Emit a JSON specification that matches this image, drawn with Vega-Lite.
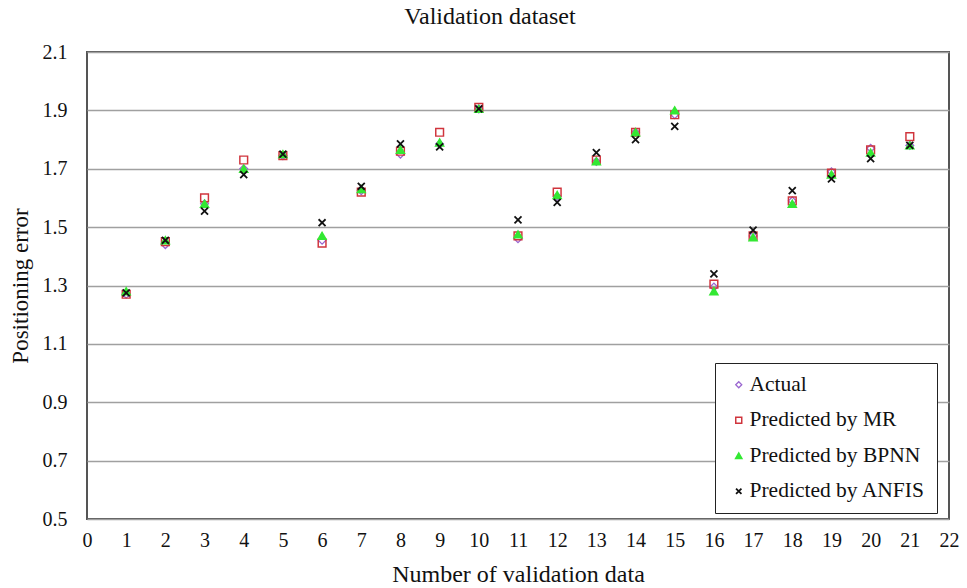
{
  "$schema": "https://vega.github.io/schema/vega-lite/v6.json",
  "width": 862,
  "height": 467,
  "autosize": "none",
  "padding": {"left": 87, "top": 52, "right": 18, "bottom": 69},
  "background": "white",
  "config": {
    "font": "Liberation Serif",
    "view": {"stroke": "#555555", "strokeWidth": 2},
    "axis": {"labelFont": "Liberation Serif", "titleFont": "Liberation Serif", "labelColor": "#111", "titleColor": "#111", "titleFontWeight": "normal"},
    "legend": {"labelFont": "Liberation Serif"},
    "title": {"font": "Liberation Serif"}
  },
  "title": {"text": "Validation dataset", "fontSize": 24, "fontWeight": "normal", "color": "#111", "offset": 13, "dx": -28},
  "data": {"values": [
    {"n":1,"s":"Actual","v":1.27},{"n":2,"s":"Actual","v":1.44},{"n":3,"s":"Actual","v":1.58},{"n":4,"s":"Actual","v":1.70},{"n":5,"s":"Actual","v":1.745},{"n":6,"s":"Actual","v":1.455},{"n":7,"s":"Actual","v":1.625},{"n":8,"s":"Actual","v":1.75},{"n":9,"s":"Actual","v":1.785},{"n":10,"s":"Actual","v":1.905},{"n":11,"s":"Actual","v":1.46},{"n":12,"s":"Actual","v":1.605},{"n":13,"s":"Actual","v":1.725},{"n":14,"s":"Actual","v":1.825},{"n":15,"s":"Actual","v":1.885},{"n":16,"s":"Actual","v":1.295},{"n":17,"s":"Actual","v":1.47},{"n":18,"s":"Actual","v":1.59},{"n":19,"s":"Actual","v":1.69},{"n":20,"s":"Actual","v":1.77},{"n":21,"s":"Actual","v":1.78},
    {"n":1,"s":"Predicted by MR","v":1.27},{"n":2,"s":"Predicted by MR","v":1.45},{"n":3,"s":"Predicted by MR","v":1.60},{"n":4,"s":"Predicted by MR","v":1.73},{"n":5,"s":"Predicted by MR","v":1.745},{"n":6,"s":"Predicted by MR","v":1.445},{"n":7,"s":"Predicted by MR","v":1.62},{"n":8,"s":"Predicted by MR","v":1.76},{"n":9,"s":"Predicted by MR","v":1.825},{"n":10,"s":"Predicted by MR","v":1.91},{"n":11,"s":"Predicted by MR","v":1.47},{"n":12,"s":"Predicted by MR","v":1.62},{"n":13,"s":"Predicted by MR","v":1.73},{"n":14,"s":"Predicted by MR","v":1.825},{"n":15,"s":"Predicted by MR","v":1.885},{"n":16,"s":"Predicted by MR","v":1.305},{"n":17,"s":"Predicted by MR","v":1.47},{"n":18,"s":"Predicted by MR","v":1.59},{"n":19,"s":"Predicted by MR","v":1.685},{"n":20,"s":"Predicted by MR","v":1.765},{"n":21,"s":"Predicted by MR","v":1.81},
    {"n":1,"s":"Predicted by BPNN","v":1.28},{"n":2,"s":"Predicted by BPNN","v":1.455},{"n":3,"s":"Predicted by BPNN","v":1.58},{"n":4,"s":"Predicted by BPNN","v":1.70},{"n":5,"s":"Predicted by BPNN","v":1.75},{"n":6,"s":"Predicted by BPNN","v":1.47},{"n":7,"s":"Predicted by BPNN","v":1.63},{"n":8,"s":"Predicted by BPNN","v":1.765},{"n":9,"s":"Predicted by BPNN","v":1.79},{"n":10,"s":"Predicted by BPNN","v":1.905},{"n":11,"s":"Predicted by BPNN","v":1.475},{"n":12,"s":"Predicted by BPNN","v":1.61},{"n":13,"s":"Predicted by BPNN","v":1.725},{"n":14,"s":"Predicted by BPNN","v":1.825},{"n":15,"s":"Predicted by BPNN","v":1.90},{"n":16,"s":"Predicted by BPNN","v":1.28},{"n":17,"s":"Predicted by BPNN","v":1.465},{"n":18,"s":"Predicted by BPNN","v":1.58},{"n":19,"s":"Predicted by BPNN","v":1.68},{"n":20,"s":"Predicted by BPNN","v":1.755},{"n":21,"s":"Predicted by BPNN","v":1.78},
    {"n":1,"s":"Predicted by ANFIS","v":1.275},{"n":2,"s":"Predicted by ANFIS","v":1.455},{"n":3,"s":"Predicted by ANFIS","v":1.555},{"n":4,"s":"Predicted by ANFIS","v":1.68},{"n":5,"s":"Predicted by ANFIS","v":1.75},{"n":6,"s":"Predicted by ANFIS","v":1.515},{"n":7,"s":"Predicted by ANFIS","v":1.64},{"n":8,"s":"Predicted by ANFIS","v":1.785},{"n":9,"s":"Predicted by ANFIS","v":1.775},{"n":10,"s":"Predicted by ANFIS","v":1.905},{"n":11,"s":"Predicted by ANFIS","v":1.525},{"n":12,"s":"Predicted by ANFIS","v":1.585},{"n":13,"s":"Predicted by ANFIS","v":1.755},{"n":14,"s":"Predicted by ANFIS","v":1.80},{"n":15,"s":"Predicted by ANFIS","v":1.845},{"n":16,"s":"Predicted by ANFIS","v":1.34},{"n":17,"s":"Predicted by ANFIS","v":1.49},{"n":18,"s":"Predicted by ANFIS","v":1.625},{"n":19,"s":"Predicted by ANFIS","v":1.665},{"n":20,"s":"Predicted by ANFIS","v":1.735},{"n":21,"s":"Predicted by ANFIS","v":1.78}
  ]},
  "mark": {"type": "point", "size": 60, "opacity": 1},
  "encoding": {
    "x": {"field": "n", "type": "quantitative",
      "scale": {"domain": [0, 22], "nice": false, "zero": false},
      "axis": {"values": [0,1,2,3,4,5,6,7,8,9,10,11,12,13,14,15,16,17,18,19,20,21,22], "grid": false, "ticks": false, "domain": false, "labelFontSize": 20, "labelPadding": 11, "labelFlush": false, "title": "Number of validation data", "titleFontSize": 24, "titlePadding": 12}},
    "y": {"field": "v", "type": "quantitative",
      "scale": {"domain": [0.5, 2.1], "nice": false, "zero": false},
      "axis": {"values": [0.5,0.7,0.9,1.1,1.3,1.5,1.7,1.9,2.1], "format": ".1f", "grid": true, "gridColor": "#a0a0a0", "gridWidth": 1.5, "ticks": false, "domain": false, "labelFontSize": 20, "labelPadding": 20, "labelFlush": false, "title": "Positioning error", "titleFontSize": 23, "titlePadding": 10}},
    "shape": {"field": "s", "type": "nominal",
      "scale": {"domain": ["Actual","Predicted by MR","Predicted by BPNN","Predicted by ANFIS"], "range": ["diamond","square","triangle-up","M-0.9,-0.9L0.9,0.9M-0.9,0.9L0.9,-0.9"]},
      "legend": {"title": null, "orient": "none", "legendX": 628, "legendY": 311, "strokeColor": "#222", "fillColor": "white", "padding": 11, "rowPadding": 12.5, "labelFontSize": 21.5, "labelLimit": 400, "labelColor": "#111", "symbolSize": 36, "symbolStrokeWidth": 1.2, "labelOffset": 0, "symbolOffset": 2}},
    "stroke": {"field": "s", "type": "nominal",
      "scale": {"domain": ["Actual","Predicted by MR","Predicted by BPNN","Predicted by ANFIS"], "range": ["#9a66d0","#d0343c","#33e833","#111111"]}},
    "fill": {"field": "s", "type": "nominal",
      "scale": {"domain": ["Actual","Predicted by MR","Predicted by BPNN","Predicted by ANFIS"], "range": ["transparent","transparent","#33e833","transparent"]}},
    "strokeWidth": {"field": "s", "type": "nominal",
      "scale": {"domain": ["Actual","Predicted by MR","Predicted by BPNN","Predicted by ANFIS"], "range": [1.3, 1.8, 1, 2.6]}, "legend": null}
  }
}
